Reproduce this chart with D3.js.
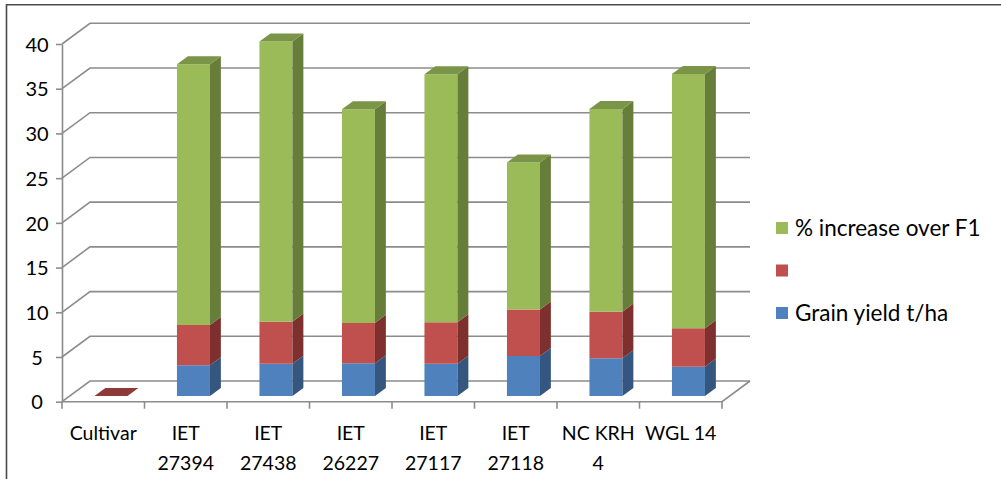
<!DOCTYPE html>
<html>
<head>
<meta charset="utf-8">
<script src="https://cdn.jsdelivr.net/npm/d3@7"></script>
<style>
  html, body { margin: 0; padding: 0; background: #fff; }
  svg { display: block; }
  text { font-family: Lato, "Open Sans", sans-serif; fill: #000; }
</style>
</head>
<body>
<svg id="chart" width="1001" height="479"></svg>
<script>
// ---- data ----
const categories = ["Cultivar", "IET 27394", "IET 27438", "IET 26227", "IET 27117", "IET 27118", "NC KRH 4", "WGL 14"];
const categoryLines = [["Cultivar"], ["IET", "27394"], ["IET", "27438"], ["IET", "26227"], ["IET", "27117"], ["IET", "27118"], ["NC KRH", "4"], ["WGL 14"]];
const grainYield     = [null, 3.43, 3.61, 3.65, 3.61, 4.47, 4.21, 3.28];
const secondSeries   = [0,    4.51, 4.70, 4.52, 4.63, 5.19, 5.22, 4.29];
const increaseOverF1 = [null, 29.16, 31.32, 23.90, 27.74, 16.44, 22.67, 28.43];
const seriesNames = ["Grain yield t/ha", "", "% increase over F1"];
const yTicks = [0, 5, 10, 15, 20, 25, 30, 35, 40];

// ---- layout ----
const svg = d3.select("#chart");
const plot = { left: 62, right: 722, bottom: 401.7, top: 44 };
const depth = { dx: 28, dy: -20.7 };          // full wall depth
const barDepth = { front: 0.275, back: 0.665 }; // bar position along the depth
const barWidthFrac = 0.40;

const x = d3.scaleBand().domain(categories).range([plot.left, plot.right]).paddingInner(0).paddingOuter(0);
const y = d3.scaleLinear().domain([0, 40]).range([plot.bottom, plot.top]);

const colors = [
  { front: "#4F81BD", side: "#35577F", top: "#3F6798" },
  { front: "#C0504D", side: "#7E302E", top: "#8E3A38" },
  { front: "#9BBB59", side: "#677D3A", top: "#7A9547" }
];
const gridColor = "#8C8C8C";

const P = (px, v, d) => [px + d * depth.dx, y(v) + d * depth.dy];
const pts = arr => arr.map(p => p.join(",")).join(" ");

// outer frame
svg.append("path").attr("d", "M6.5,479 V4.7 H1001")
  .attr("fill", "none").attr("stroke", "#4a4a4a").attr("stroke-width", 1.6);

// walls: gridlines on the back wall and the left wall
const grid = svg.append("g").attr("stroke", gridColor).attr("stroke-width", 1.6).attr("fill", "none");
yTicks.forEach(t => {
  const a = P(plot.left, t, 0), b = P(plot.left, t, 1), c = P(plot.right, t, 1);
  grid.append("polyline").attr("points", pts([a, b, c]));
});
// floor front and right edges
grid.append("polyline").attr("points", pts([P(plot.left, 0, 0), P(plot.right, 0, 0), P(plot.right, 0, 1)]));

// value axis (front)
const yAxis = d3.axisLeft(y).tickValues(yTicks).tickSize(6).tickSizeOuter(0).tickPadding(14);
const yg = svg.append("g").attr("transform", `translate(${plot.left},0)`).call(yAxis);
yg.select(".domain").attr("stroke", gridColor).attr("stroke-width", 1.6);
yg.selectAll(".tick line").attr("stroke", gridColor).attr("stroke-width", 1.6);
yg.selectAll(".tick text").attr("font-size", 20).attr("font-family", "Lato, sans-serif")
  .attr("fill", "#000").attr("text-anchor", "middle").attr("x", -25).attr("dy", "0.36em");

// category ticks on the boundaries
const bounds = categories.map(c => x(c)).concat([plot.right]);
svg.append("g").selectAll("line").data(bounds).join("line")
  .attr("x1", d => d).attr("x2", d => d)
  .attr("y1", plot.bottom).attr("y2", plot.bottom + 7)
  .attr("stroke", gridColor).attr("stroke-width", 1.6);

// category labels
const lab = svg.append("g");
categories.forEach((c, i) => {
  const t = lab.append("text").attr("text-anchor", "middle").attr("font-size", 19.5)
    .attr("x", x(c) + x.bandwidth() / 2).attr("y", 440);
  categoryLines[i].forEach((line, k) => {
    t.append("tspan").attr("x", x(c) + x.bandwidth() / 2).attr("dy", k === 0 ? 0 : 30).text(line);
  });
});

// stacked 3D columns
const series = [grainYield, secondSeries, increaseOverF1];
const bars = svg.append("g");
categories.forEach((c, i) => {
  const w = x.bandwidth() * barWidthFrac;
  const xl = x(c) + (x.bandwidth() - w) / 2, xr = xl + w;
  const d0 = barDepth.front, d1 = barDepth.back;
  let base = 0, topIdx = -1;
  series.forEach((s, k) => { if (s[i] != null) topIdx = k; });
  series.forEach((s, k) => {
    const v = s[i];
    if (v == null) return;
    const lo = base, hi = base + v;
    const col = colors[k];
    const g = bars.append("g");
    if (v > 0) {
      g.append("polygon").attr("fill", col.front)
        .attr("points", pts([P(xl, lo, d0), P(xr, lo, d0), P(xr, hi, d0), P(xl, hi, d0)]));
      g.append("polygon").attr("fill", col.side)
        .attr("points", pts([P(xr, lo, d0), P(xr, lo, d1), P(xr, hi, d1), P(xr, hi, d0)]));
    }
    if (k === topIdx) {
      g.append("polygon").attr("fill", col.top)
        .attr("points", pts([P(xl, hi, d0), P(xr, hi, d0), P(xr, hi, d1), P(xl, hi, d1)]));
    }
    base = hi;
  });
});

// legend
const legendItems = [2, 1, 0];
const lg = svg.append("g");
legendItems.forEach((k, j) => {
  const cy = 228 + j * 42.5;
  lg.append("rect").attr("x", 776).attr("y", cy - 6).attr("width", 12).attr("height", 12).attr("fill", colors[k].front);
  lg.append("text").attr("x", 795).attr("y", cy).attr("dy", "0.36em").attr("font-size", 22.5).text(seriesNames[k]);
});
</script>
</body>
</html>
